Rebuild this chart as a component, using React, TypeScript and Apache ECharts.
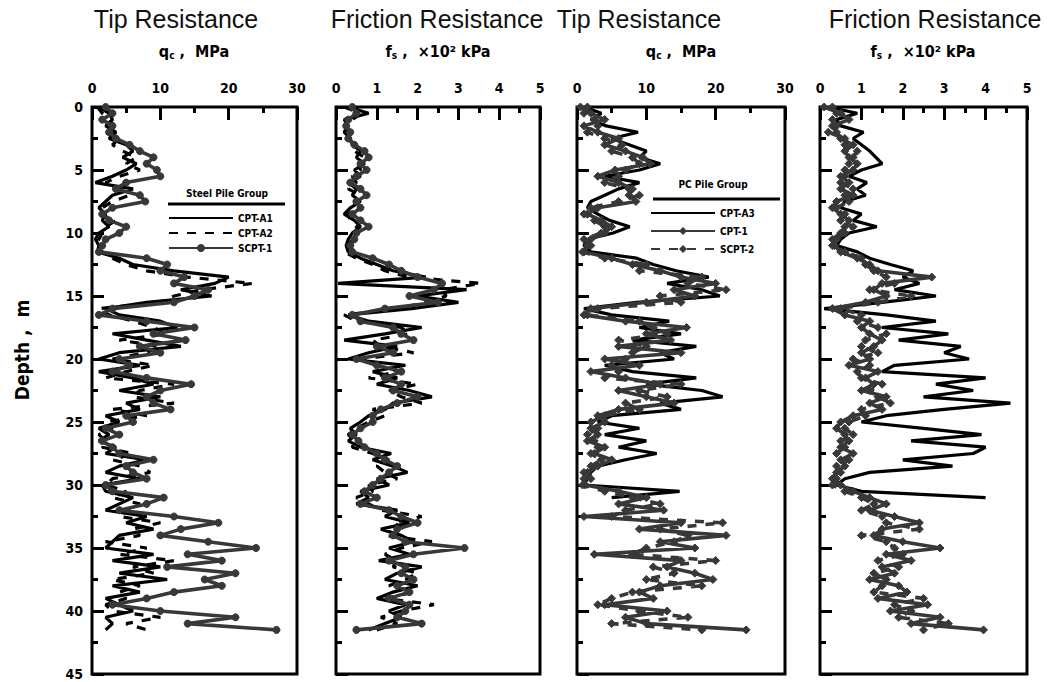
import React, { useEffect, useRef } from "react";
import * as echarts from "echarts";

const DEPTH = [0,0.5,1,1.5,2,2.5,3,3.5,4,4.5,5,5.5,6,6.5,7,7.5,8,8.5,9,9.5,10,10.5,11,11.5,12,12.5,13,13.5,14,14.5,15,15.5,16,16.5,17,17.5,18,18.5,19,19.5,20,20.5,21,21.5,22,22.5,23,23.5,24,24.5,25,25.5,26,26.5,27,27.5,28,28.5,29,29.5,30,30.5,31,31.5,32,32.5,33,33.5,34,34.5,35,35.5,36,36.5,37,37.5,38,38.5,39,39.5,40,40.5,41,41.5];

const QC_X_TICKS = [0, 10, 20, 30];
const FS_X_TICKS = [0, 1, 2, 3, 4, 5];
const DEPTH_TICKS = [0, 5, 10, 15, 20, 25, 30, 35, 40, 45];

// Panel 1: tip resistance qc (MPa), steel pile group
const P1_CPTA1 = [1.0,2.5,3.0,2.0,3.5,2.5,5.0,6.0,4.5,6.5,
5.0,3.0,0.5,6.0,3.0,2.0,1.0,2.0,1.5,2.5,
1.0,0.5,1.0,0.8,4.0,6.0,12.0,20.0,18.0,13.0,
17.5,8.0,2.0,4.0,10.0,12.5,3.0,8.0,13.0,4.0,
1.0,7.0,1.0,6.0,9.0,4.0,10.0,5.0,7.0,2.0,
4.0,1.0,2.5,1.0,3.5,2.0,8.0,4.0,2.0,7.0,
1.5,2.0,6.0,4.0,2.0,8.0,5.0,9.0,4.0,3.0,
2.0,9.0,3.0,10.0,4.0,11.0,3.0,7.0,2.0,4.0,
6.0,2.0,3.0,2.0];
const P1_CPTA2 = [0.8,1.5,2.5,3.2,2.0,4.0,3.0,4.5,6.5,5.0,
7.0,4.0,2.0,4.0,5.5,3.0,1.5,1.0,3.5,2.0,
1.5,1.0,0.5,1.5,3.0,5.0,8.0,14.0,23.5,16.0,
12.0,10.0,1.0,2.5,6.0,9.0,11.0,4.0,10.0,8.0,
3.0,9.0,5.0,2.0,12.0,7.0,6.0,12.0,3.0,8.0,
2.0,3.0,1.0,2.0,1.5,6.0,3.0,7.0,8.5,3.0,
2.0,5.0,3.0,7.0,5.0,4.0,10.0,6.0,7.0,2.0,
8.0,4.0,12.0,6.0,9.0,3.0,7.0,4.0,5.0,2.0,
3.0,10.0,5.0,8.0];
const P1_SCPT1 = [2.0,3.0,1.5,3.0,2.5,3.5,5.5,7.0,9.0,8.0,
9.5,10.0,5.0,3.5,7.0,7.8,3.0,1.5,2.5,5.0,
4.0,2.0,1.5,1.0,8.0,11.0,10.0,13.5,12.0,17.0,
15.0,12.0,3.0,1.0,8.0,15.0,9.0,13.7,7.0,10.0,
4.0,5.5,3.0,8.0,14.5,10.0,8.0,9.0,11.5,5.0,
6.0,2.0,4.0,1.5,3.0,4.0,9.0,5.0,6.0,8.0,
2.0,3.0,10.5,8.0,4.0,12.0,18.5,13.0,10.0,17.0,
24.0,14.0,19.0,11.0,21.0,16.5,19.0,12.0,8.0,3.0,
10.0,21.0,14.0,27.0];

// Panel 2: friction resistance fs (x10^2 kPa), steel pile group
const P2_CPTA1 = [0.3,0.8,0.2,0.3,0.2,0.35,0.4,0.6,0.5,0.7,
0.45,0.6,0.3,0.5,0.4,0.6,0.35,0.2,0.45,0.6,
0.4,0.3,0.25,0.3,0.6,1.0,1.4,2.2,0.05,3.2,
2.0,3.0,1.85,0.3,0.8,2.1,1.2,0.2,1.5,0.8,
0.3,1.7,0.9,1.5,1.0,1.8,2.35,1.4,1.2,0.8,
0.6,0.35,0.5,0.3,0.6,1.35,0.9,1.4,1.75,1.0,
1.3,0.6,0.8,0.5,1.5,1.2,1.8,1.1,1.6,1.9,
1.3,1.8,1.05,2.1,1.5,1.2,2.0,1.4,1.0,1.7,
1.3,1.6,1.2,0.8];
const P2_CPTA2 = [0.2,0.6,0.4,0.2,0.3,0.25,0.5,0.45,0.7,0.55,
0.6,0.4,0.5,0.3,0.6,0.45,0.5,0.3,0.35,0.5,
0.55,0.4,0.3,0.2,0.5,0.9,1.2,1.8,3.55,2.6,
2.7,2.2,1.5,0.2,0.5,1.6,1.8,0.9,1.1,1.9,
0.6,1.2,1.5,0.8,2.0,1.3,1.6,2.1,0.9,1.2,
0.8,0.5,0.3,0.45,0.4,0.9,1.3,1.0,1.2,1.5,
0.8,0.9,0.5,0.8,1.1,2.1,1.4,1.7,1.2,2.35,
1.6,1.2,1.5,1.4,2.0,1.7,1.3,1.9,1.2,2.4,
1.6,1.1,1.5,1.0];
const P2_SCPT1 = [0.4,0.5,0.3,0.25,0.35,0.3,0.45,0.7,0.8,0.6,
0.75,0.5,0.35,0.6,0.75,0.5,0.6,0.4,0.6,0.8,
0.5,0.45,0.35,0.4,0.9,1.3,1.6,2.0,2.6,2.4,
1.8,2.5,1.2,0.4,0.6,1.4,1.6,1.9,1.0,1.4,
0.5,1.0,1.6,1.2,1.6,1.4,2.0,1.5,1.1,0.9,
0.9,0.6,0.4,0.55,0.7,1.0,1.2,1.5,1.3,1.1,
0.9,0.7,1.0,0.6,1.3,1.6,2.0,1.5,1.4,1.7,
3.15,1.9,1.3,1.7,1.6,1.9,1.5,1.8,1.3,1.8,
1.7,1.5,2.1,0.5];

// Panel 3: tip resistance qc (MPa), PC pile group
const P3_CPTA3 = [1.0,3.5,2.0,4.2,8.8,5.0,7.5,10.0,9.0,12.0,
9.0,4.0,9.0,6.0,4.0,2.0,1.5,3.0,4.7,7.6,
5.2,1.5,1.0,2.0,8.6,11.0,14.3,19.0,13.0,18.0,
20.6,8.6,1.0,5.0,13.3,9.0,15.0,8.0,17.2,12.0,
14.0,4.0,8.0,17.2,10.0,18.0,21.0,12.0,15.0,5.0,
3.0,9.0,4.0,10.0,6.0,11.5,7.0,3.0,2.0,1.5,
1.0,14.8,5.0];
const P3_CPT1 = [0.5,2.0,4.0,1.0,3.0,6.0,4.0,7.0,9.5,10.5,
5.5,3.0,6.0,8.0,7.5,8.5,3.0,1.5,3.5,5.0,
4.0,2.0,1.5,1.0,5.0,8.0,12.0,15.0,20.0,14.0,
17.0,10.0,2.0,1.0,7.0,15.8,10.0,13.5,6.0,15.0,
4.0,9.0,2.0,7.0,12.0,6.0,10.0,14.0,6.0,3.0,
4.0,2.0,3.0,1.5,4.0,2.5,5.0,3.0,1.5,1.0,
1.2,6.0,10.0,6.0,12.5,1.0,15.0,9.0,21.5,12.0,
17.0,2.5,15.0,13.0,17.0,19.6,12.0,9.0,11.0,4.0,
13.0,7.0,10.0,24.4];
const P3_SCPT2 = [1.5,1.0,2.5,3.0,1.5,4.0,6.5,5.0,8.0,9.0,
7.0,6.0,4.0,7.5,9.0,6.0,2.0,1.0,2.5,4.0,
3.5,1.0,2.0,0.8,4.0,10.0,9.0,18.0,16.0,21.5,
12.0,15.0,3.0,1.5,9.0,11.0,13.0,6.0,10.0,8.0,
7.0,5.0,6.0,4.0,15.0,9.0,13.0,7.0,9.0,4.0,
2.0,3.0,1.5,2.5,3.0,2.0,3.5,2.0,1.0,2.0,
0.8,4.0,8.0,12.0,7.0,5.0,21.0,12.0,16.0,14.0,
10.0,8.0,20.0,11.0,14.0,10.0,18.0,8.0,5.0,3.0,
9.0,16.0,5.0,18.0];

// Panel 4: friction resistance fs (x10^2 kPa), PC pile group
const P4_CPTA3 = [0.2,0.9,0.4,0.5,1.05,0.8,1.0,1.2,1.35,1.5,
1.0,0.7,1.13,0.9,1.1,0.6,0.5,1.0,0.8,1.37,
0.7,0.5,0.4,0.9,1.2,1.7,2.25,2.0,2.4,1.8,
2.8,1.5,0.1,1.6,2.8,1.5,3.1,1.9,3.4,3.0,
3.6,1.8,1.5,4.0,2.8,3.7,2.5,4.6,3.0,1.6,
1.0,2.5,3.9,2.2,4.0,3.7,2.0,3.2,1.2,0.6,
0.4,1.0,4.0];
const P4_CPT1 = [0.1,0.5,0.7,0.3,0.4,0.5,0.8,0.6,0.7,0.9,
0.8,0.5,0.7,0.5,0.8,0.4,0.3,0.5,0.7,0.6,
0.5,0.3,0.35,0.5,0.9,1.2,1.4,2.7,1.5,1.3,
1.6,1.1,0.3,0.6,1.2,1.0,1.2,1.5,1.3,1.0,
1.2,0.7,1.4,1.1,1.3,1.0,1.6,1.2,1.5,0.8,
0.5,0.4,0.6,0.7,0.5,0.8,0.5,0.6,0.4,0.3,
0.5,0.8,1.2,1.6,1.2,1.8,2.4,1.5,1.3,2.0,
2.9,1.6,2.2,1.5,1.8,1.2,1.9,2.1,1.4,2.6,
1.7,2.9,2.2,3.95];
const P4_SCPT2 = [0.3,0.4,0.3,0.4,0.2,0.6,0.6,0.9,0.8,0.7,
0.6,0.6,0.5,0.8,0.6,0.7,0.4,0.6,0.5,0.8,
0.6,0.4,0.3,0.6,1.0,1.1,1.3,1.6,1.8,1.2,
2.2,1.4,0.5,1.0,0.9,1.4,1.6,1.1,1.0,1.4,
0.8,1.2,0.9,1.0,1.5,1.2,1.4,1.7,1.0,1.1,
0.7,0.6,0.8,0.5,0.6,0.4,0.7,0.4,0.5,0.4,
0.3,0.6,1.0,1.3,1.0,1.5,1.6,2.4,1.0,1.6,
1.8,2.0,1.4,1.9,1.3,1.6,1.5,1.3,2.5,1.8,
2.2,1.9,3.1,2.5];

const LEGEND_1 = ["CPT-A1", "CPT-A2", "SCPT-1"];
const LEGEND_2 = ["CPT-A3", "CPT-1", "SCPT-2"];
const NO_MARKER = ["CPT-A1", "CPT-A2", "CPT-A3"];

const TICK_FONT = "'DejaVu Sans Condensed', 'DejaVu Sans', sans-serif";
const TITLE_FONT = "'Liberation Sans', Arial, sans-serif";
const GRAY = "#383838";

function pairs(vals: number[]) {
  return vals.map((v, i) => [v, DEPTH[i]]);
}

const GRIDS = [
  { left: 92, width: 205 },
  { left: 336, width: 204 },
  { left: 577, width: 208 },
  { left: 820, width: 207 },
];

export default function App() {
  const ref = useRef<HTMLDivElement>(null);
  useEffect(() => {
    if (!ref.current) return;
    const chart = echarts.init(ref.current, null, { renderer: "svg" });

    const grid = GRIDS.map((g) => ({
      left: g.left,
      top: 107,
      width: g.width,
      height: 567,
      show: true,
      borderColor: "#000",
      borderWidth: 3,
      backgroundColor: "transparent",
    }));

    const xAxis = GRIDS.map((g, i) => {
      const isQc = i % 2 === 0;
      const ticks = isQc ? QC_X_TICKS : FS_X_TICKS;
      return {
        type: "value",
        gridIndex: i,
        position: "top",
        min: ticks[0],
        max: ticks[ticks.length - 1],
        interval: ticks[1] - ticks[0],
        axisLine: { show: false },
        axisTick: { show: true, inside: true, length: 13, lineStyle: { color: "#000", width: 3 } },
        minorTick: { show: true, splitNumber: 2, length: 6, lineStyle: { color: "#000", width: 3 } },
        splitLine: { show: false },
        axisLabel: {
          margin: 12,
          color: "#000",
          fontFamily: TICK_FONT,
          fontWeight: "bold",
          fontSize: 14,
        },
      };
    });

    const yAxis = GRIDS.map((g, i) => ({
      type: "value",
      gridIndex: i,
      inverse: true,
      min: DEPTH_TICKS[0],
      max: DEPTH_TICKS[DEPTH_TICKS.length - 1],
      interval: DEPTH_TICKS[1] - DEPTH_TICKS[0],
      axisLine: { show: false },
      axisTick: { show: true, inside: true, length: 12, lineStyle: { color: "#000", width: 3 } },
      minorTick: { show: true, splitNumber: 2, length: 6, lineStyle: { color: "#000", width: 3 } },
      splitLine: { show: false },
      axisLabel: {
        show: i === 0,
        margin: 9,
        color: "#000",
        fontFamily: TICK_FONT,
        fontWeight: "bold",
        fontSize: 14,
      },
    }));

    const mk = (
      name: string,
      idx: number,
      vals: number[],
      color: string,
      dashed: boolean,
      symbol: string | null,
      z: number
    ) => ({
      name,
      type: "line",
      xAxisIndex: idx,
      yAxisIndex: idx,
      data: pairs(vals),
      showSymbol: !!symbol,
      symbol: symbol || "none",
      symbolSize: symbol === "diamond" ? 8 : 7,
      lineStyle: {
        color,
        width: symbol ? 3.6 : 3.2,
        type: dashed ? [9, 9] : "solid",
      },
      itemStyle: { color, borderColor: color },
      clip: true,
      z,
    });

    const series = [
      mk("CPT-A1", 0, P1_CPTA1, "#000", false, null, 3),
      mk("CPT-A2", 0, P1_CPTA2, "#000", true, null, 3),
      mk("SCPT-1", 0, P1_SCPT1, GRAY, false, "circle", 4),
      mk("CPT-A1", 1, P2_CPTA1, "#000", false, null, 3),
      mk("CPT-A2", 1, P2_CPTA2, "#000", true, null, 3),
      mk("SCPT-1", 1, P2_SCPT1, GRAY, false, "circle", 4),
      mk("CPT-A3", 2, P3_CPTA3, "#000", false, null, 3),
      mk("CPT-1", 2, P3_CPT1, GRAY, false, "diamond", 4),
      mk("SCPT-2", 2, P3_SCPT2, GRAY, true, "diamond", 4),
      mk("CPT-A3", 3, P4_CPTA3, "#000", false, null, 3),
      mk("CPT-1", 3, P4_CPT1, GRAY, false, "diamond", 4),
      mk("SCPT-2", 3, P4_SCPT2, GRAY, true, "diamond", 4),
    ];

    const legendText = {
      color: "#000",
      fontFamily: TICK_FONT,
      fontWeight: "bold",
      fontSize: 10,
    };

    const legendItems = (names: string[]) =>
      names.map((n) =>
        NO_MARKER.includes(n)
          ? { name: n, itemStyle: { opacity: 0 } }
          : { name: n }
      );

    const titleStyle = (text: string, x: number) => ({
      type: "text",
      x,
      y: 19,
      style: {
        text,
        fill: "#111",
        font: `25px ${TITLE_FONT}`,
        textAlign: "center",
        textVerticalAlign: "middle",
      },
    });

    const subRich = {
      a: { fontFamily: TICK_FONT, fontWeight: "bold", fontSize: 16, fill: "#000", color: "#000" },
      s: { fontFamily: TICK_FONT, fontWeight: "bold", fontSize: 10, fill: "#000", color: "#000", padding: [9, 0, 0, 0] },
    };

    const subtitle = (main: string, sub: string, rest: string, x: number) => ({
      type: "text",
      x,
      y: 51,
      style: {
        text: `{a|${main}}{s|${sub}}{a|${rest}}`,
        rich: subRich,
        fill: "#000",
        textAlign: "center",
        textVerticalAlign: "middle",
      },
    });

    const legendTitle = (text: string, x: number, y: number) => ({
      type: "text",
      x,
      y,
      style: {
        text,
        fill: "#000",
        font: `bold 10px ${TICK_FONT}`,
        textAlign: "center",
        textVerticalAlign: "middle",
      },
    });

    const rule = (x1: number, x2: number, y: number) => ({
      type: "line",
      shape: { x1, y1: y, x2, y2: y },
      style: { stroke: "#000", lineWidth: 3 },
    });

    const option = {
      animation: false,
      backgroundColor: "#fff",
      grid,
      xAxis,
      yAxis,
      series,
      legend: [
        {
          data: legendItems(LEGEND_1),
          orient: "vertical",
          left: 168,
          top: 213,
          itemWidth: 64,
          itemHeight: 10,
          itemGap: 5,
          padding: 0,
          selectedMode: false,
          textStyle: legendText,
        },
        {
          data: legendItems(LEGEND_2),
          orient: "vertical",
          left: 650,
          top: 208,
          itemWidth: 64,
          itemHeight: 10,
          itemGap: 8,
          padding: 0,
          selectedMode: false,
          textStyle: legendText,
        },
      ],
      graphic: [
        titleStyle("Tip Resistance", 176),
        titleStyle("Friction Resistance", 437),
        titleStyle("Tip Resistance", 639),
        titleStyle("Friction Resistance", 935),
        subtitle("q", "c", " ,  MPa", 194),
        subtitle("f", "s", " ,  ×10² kPa", 438),
        subtitle("q", "c", " ,  MPa", 681),
        subtitle("f", "s", " ,  ×10² kPa", 923),
        {
          type: "text",
          x: 22,
          y: 350,
          rotation: Math.PI / 2,
          style: {
            text: "Depth ,  m",
            fill: "#000",
            font: `bold 19px ${TICK_FONT}`,
            textAlign: "center",
            textVerticalAlign: "middle",
          },
        },
        legendTitle("Steel Pile Group", 227, 193),
        rule(168, 285, 204),
        legendTitle("PC Pile Group", 713, 184),
        rule(653, 780, 199),
      ],
    };

    chart.setOption(option as any);
    return () => chart.dispose();
  }, []);

  return (
    <div
      ref={ref}
      style={{ position: "fixed", left: 0, top: 0, width: 1048, height: 682 }}
    />
  );
}
